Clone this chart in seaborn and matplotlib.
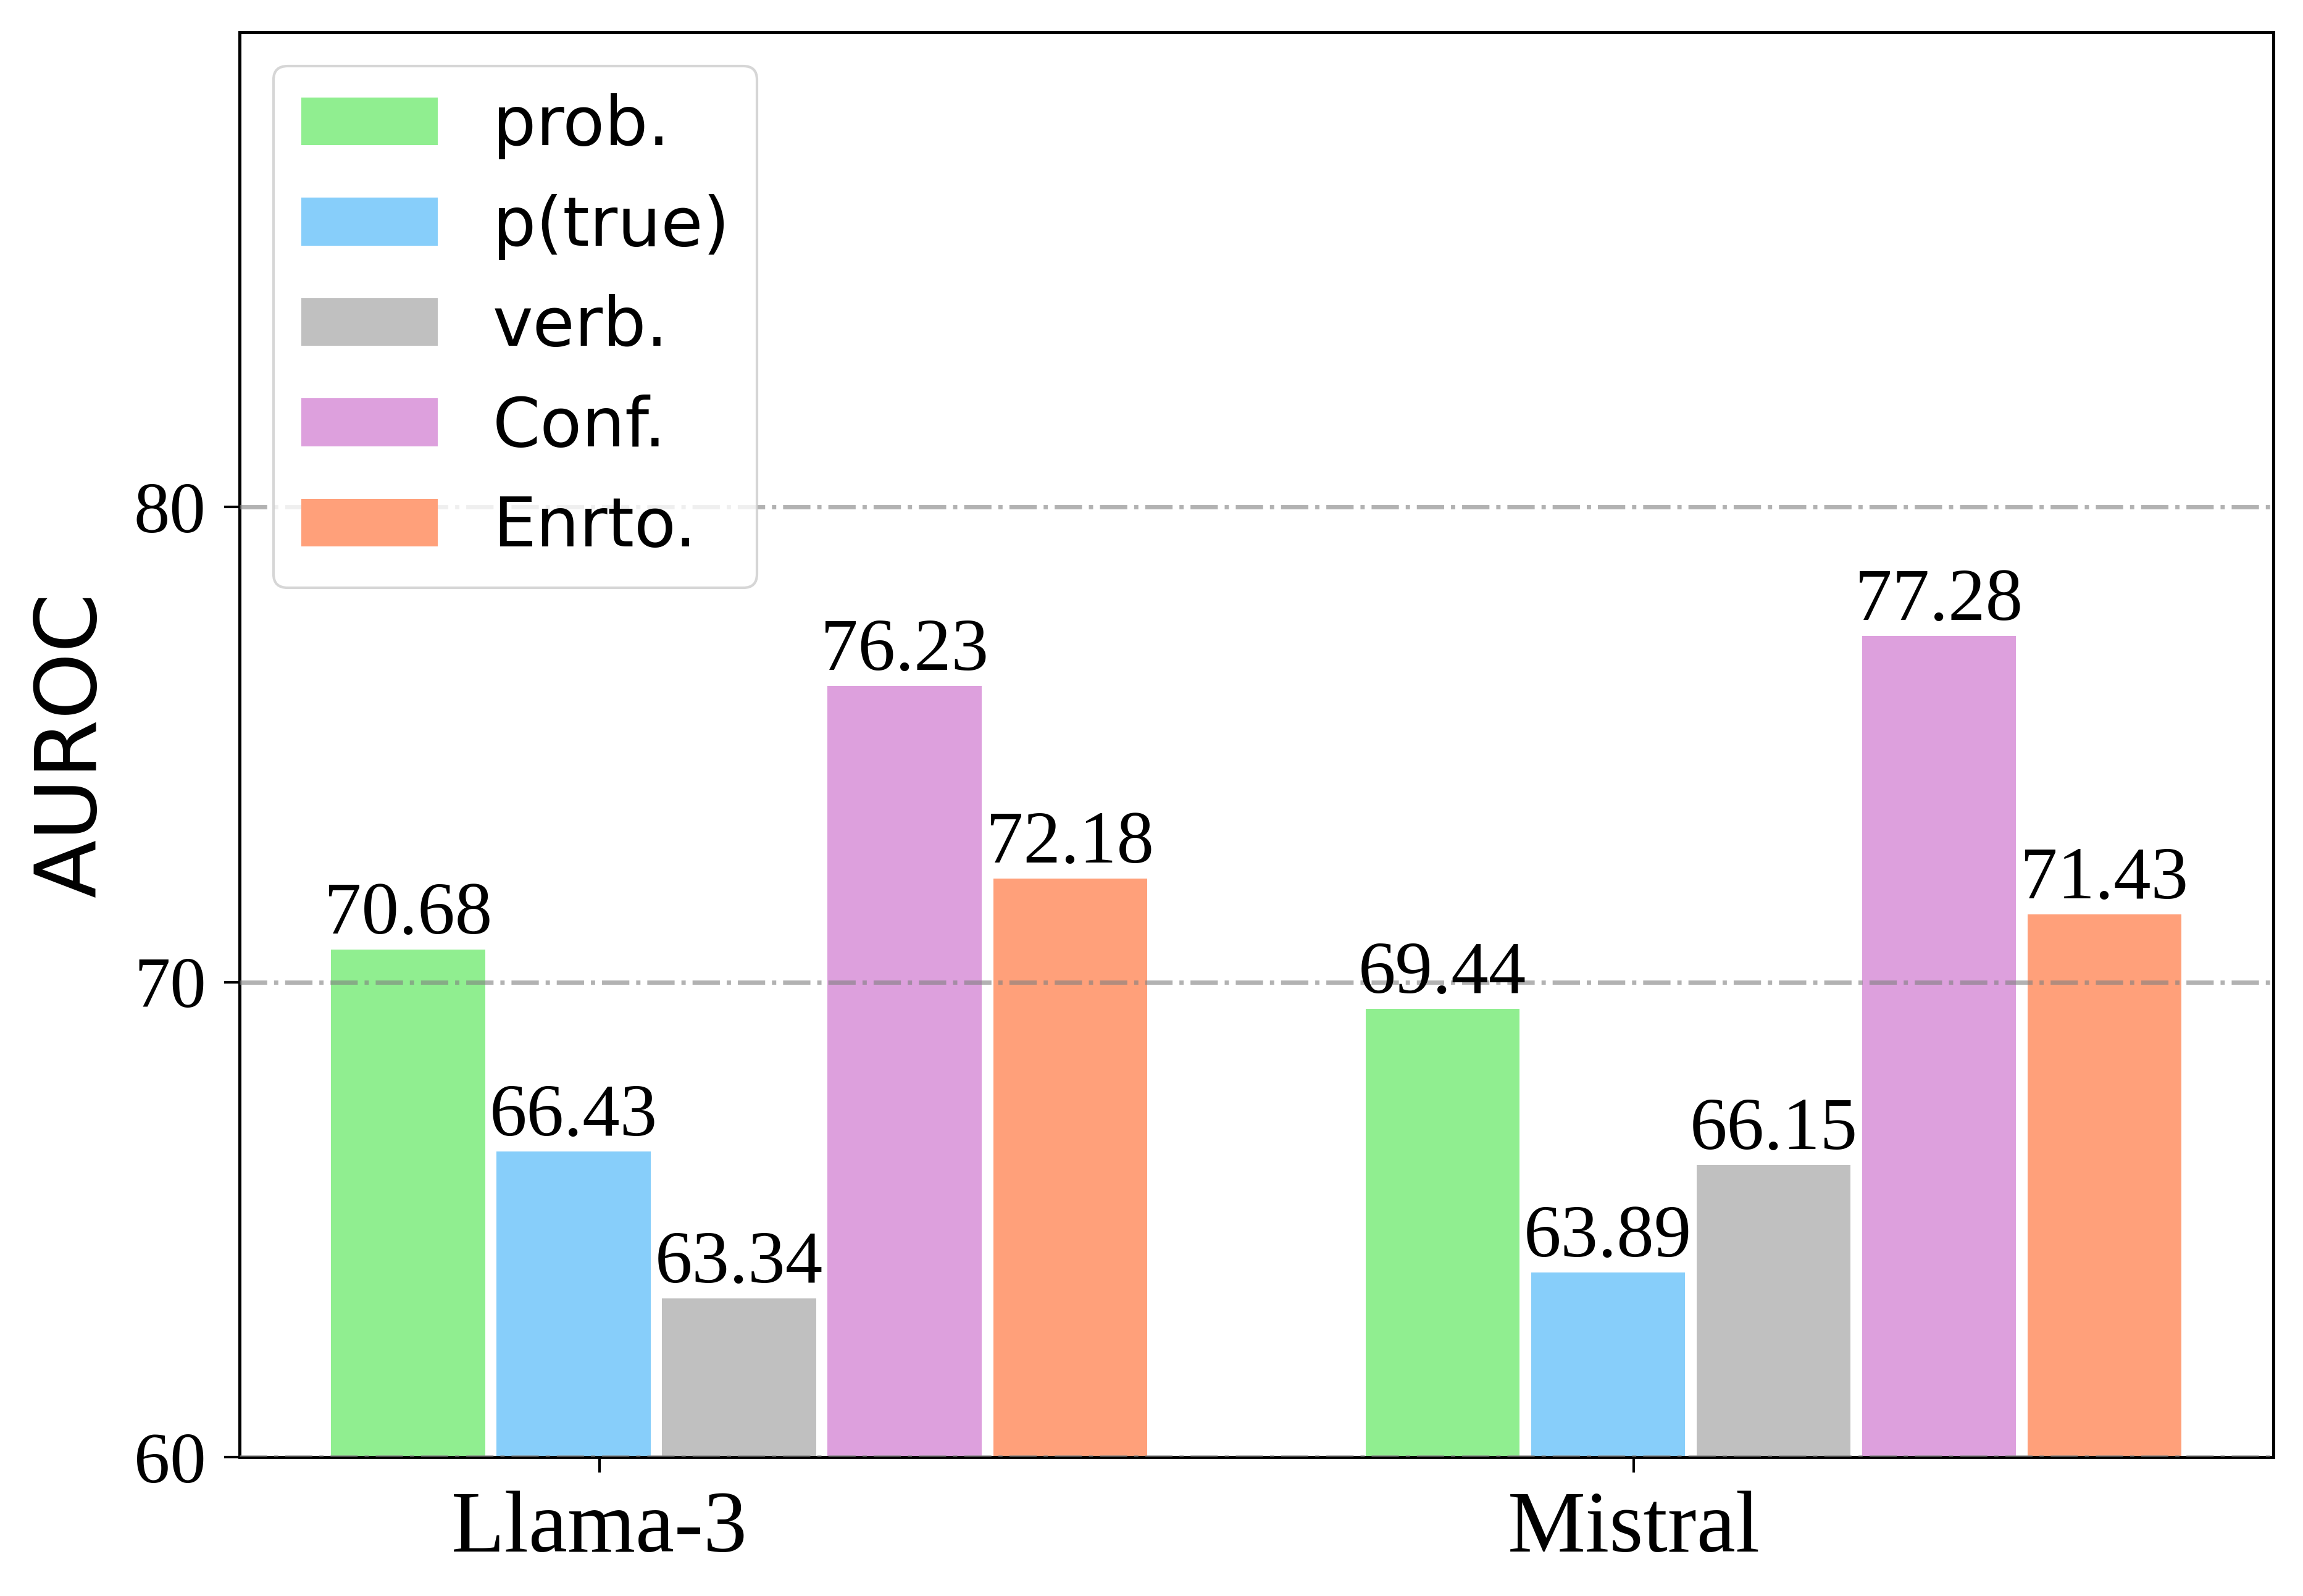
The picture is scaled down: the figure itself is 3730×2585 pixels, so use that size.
import matplotlib
matplotlib.use("Agg")
import matplotlib.pyplot as plt
import seaborn as sns
import pandas as pd

models = ["Llama-3", "Mistral"]
methods = ["prob.", "p(true)", "verb.", "Conf.", "Enrto."]
llama_scores = [70.68, 66.43, 63.34, 76.23, 72.18]
mistral_scores = [69.44, 63.89, 66.15, 77.28, 71.43]
colors = ["lightgreen", "lightskyblue", "silver", "plum", "lightsalmon"]

rows = []
for m, s in zip(methods, llama_scores):
    rows.append({"Model": "Llama-3", "Method": m, "AUROC": s})
for m, s in zip(methods, mistral_scores):
    rows.append({"Model": "Mistral", "Method": m, "AUROC": s})
df = pd.DataFrame(rows)

plt.rcParams["font.family"] = ["DejaVu Sans"]
serif = ["Liberation Serif", "DejaVu Serif"]

fig = plt.figure(figsize=(3730 / 300, 2585 / 300), dpi=300)
ax = fig.add_axes([0.104, 0.087, 0.883, 0.893])

sns.barplot(data=df, x="Model", y="AUROC", hue="Method", order=models,
            hue_order=methods, palette=colors, width=0.8, gap=0.07,
            saturation=1, errorbar=None, ax=ax, zorder=2)

# value labels
for cont in ax.containers:
    ax.bar_label(cont, fmt="%.2f", fontsize=29, family=serif, padding=0)

ax.set_ylim(60, 90)
ax.set_yticks([60, 70, 80])
ax.set_xlim(-0.483, 1.483)
# tick labels sit a little left of each group's centre, as in the original
ax.set_xticks([-0.135, 0.865])
ax.set_xticklabels(models)
ax.set_xlabel("")
ax.set_ylabel("AUROC", fontsize=33, labelpad=8)

for lab in ax.get_xticklabels():
    lab.set_family(serif)
    lab.set_fontsize(34)
for lab in ax.get_yticklabels():
    lab.set_family(serif)
    lab.set_fontsize(28)

ax.tick_params(axis="both", length=6, width=1.0, color="black", pad=7)
for sp in ax.spines.values():
    sp.set_visible(True)
    sp.set_color("black")
    sp.set_linewidth(1.2)

ax.yaxis.grid(True, linestyle="-.", color="gray", alpha=0.6, linewidth=1.66, zorder=3)
ax.set_axisbelow(False)
ax.xaxis.grid(False)

handles, labels = ax.get_legend_handles_labels()
ax.legend(handles, labels, loc="upper left", fontsize=26.6)

fig.savefig("out.png", dpi=300)
